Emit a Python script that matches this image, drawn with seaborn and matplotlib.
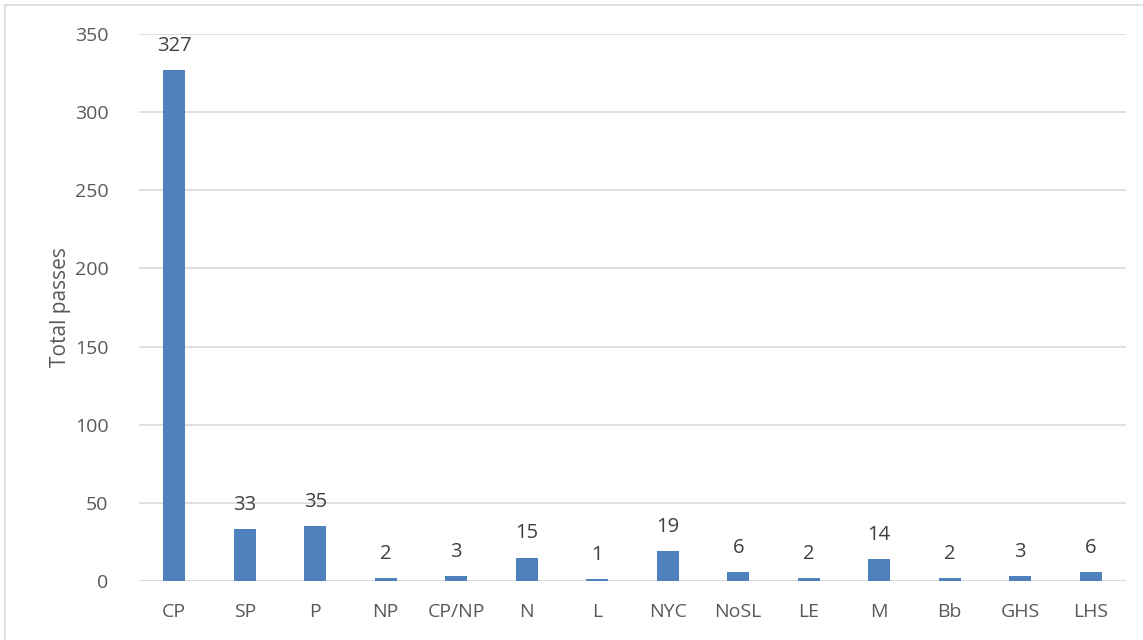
import pandas as pd
import matplotlib.pyplot as plt
import seaborn as sns
from matplotlib.patches import Rectangle

# Data
categories = ['CP', 'SP', 'P', 'NP', 'CP/NP', 'N', 'L', 'NYC', 'NoSL', 'LE', 'M', 'Bb', 'GHS', 'LHS']
passes = [327, 33, 35, 2, 3, 15, 1, 19, 6, 2, 14, 2, 3, 6]
y_ticks = [0, 50, 100, 150, 200, 250, 300, 350]

df = pd.DataFrame({'category': categories, 'passes': passes})

sns.set_style('white')
plt.rcParams['font.family'] = ['Open Sans', 'DejaVu Sans']

fig = plt.figure(figsize=(11.43, 6.4), dpi=100)
ax = fig.add_axes([0.1216, 0.0922, 0.8634, 0.8547])

sns.barplot(data=df, x='category', y='passes', color='#4F81BD', width=0.31,
            saturation=1, edgecolor='none', ax=ax)

# Data labels
for i, v in enumerate(passes):
    ax.text(i, v + 9, str(v), ha='center', va='bottom', fontsize=14.5, color='#404040')

ax.set_ylim(0, 350)
ax.set_xlim(-0.5, len(categories) - 0.5)
ax.set_yticks(y_ticks)
ax.yaxis.grid(True, color='#D9D9D9', linewidth=1.2)
ax.set_axisbelow(True)
for s in ax.spines.values():
    s.set_visible(False)
ax.axhline(0, color='#D9D9D9', linewidth=1.2, zorder=0)
ax.tick_params(axis='both', length=0, labelsize=14, colors='#595959', pad=16)
ax.tick_params(axis='y', pad=22)
ax.set_xlabel('')
ax.set_ylabel('Total passes', fontsize=15, color='#595959', labelpad=3)

# Chart border
fig.patches.append(Rectangle((5 / 1143, -0.1), 1.2, 1.1 - 5 / 640, transform=fig.transFigure,
                             fill=False, edgecolor='#D9D9D9', linewidth=1.2))

plt.savefig('out.png', dpi=100)
plt.close()
